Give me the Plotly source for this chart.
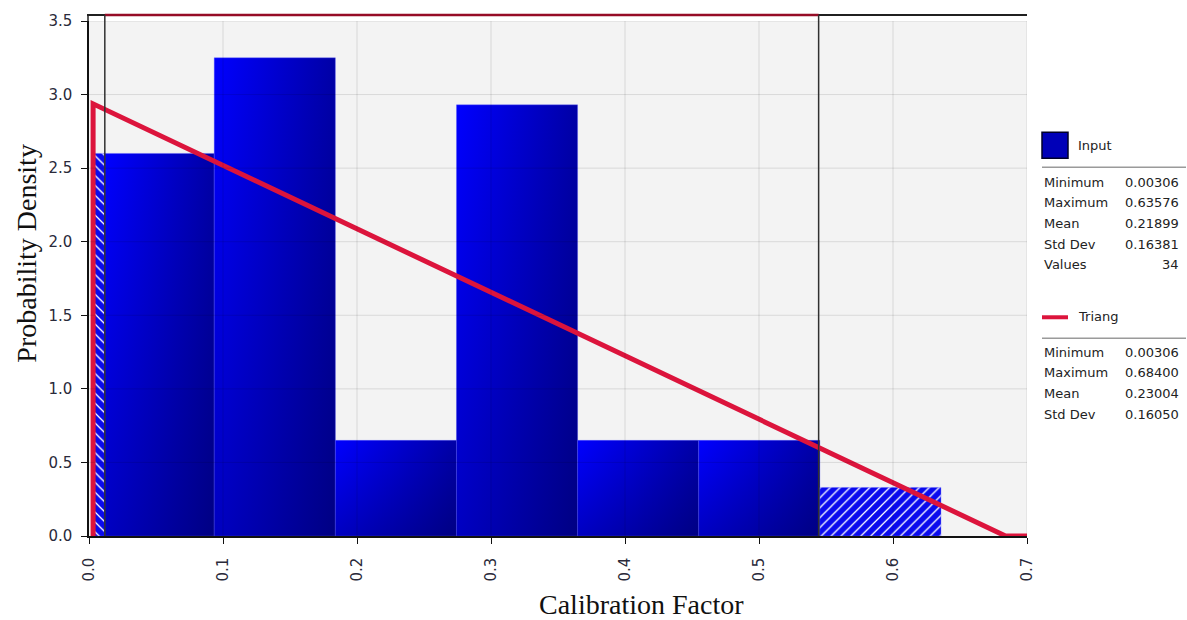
import plotly.graph_objects as go

# ---- data -------------------------------------------------------------
bin_edges = [0.00306, 0.09345, 0.18384, 0.27423, 0.36462, 0.45501, 0.54540, 0.63579]
densities = [2.60, 3.25, 0.65, 2.93, 0.65, 0.65, 0.33]

# fitted triangular density (mode at the minimum)
tri_x = [0.00306, 0.00306, 0.68400, 0.70]
tri_y = [0.0, 2.937, 0.0, 0.0]

# delimiter positions
delim_left = 0.0118
delim_right = 0.5445

x_ticks = [0.0, 0.1, 0.2, 0.3, 0.4, 0.5, 0.6, 0.7]
x_tick_text = ["0.0", "0.1", "0.2", "0.3", "0.4", "0.5", "0.6", "0.7"]
y_ticks = [0.0, 0.5, 1.0, 1.5, 2.0, 2.5, 3.0, 3.5]
y_tick_text = ["0.0", "0.5", "1.0", "1.5", "2.0", "2.5", "3.0", "3.5"]

input_labels = ["Minimum", "Maximum", "Mean", "Std Dev", "Values"]
input_values = ["0.00306", "0.63576", "0.21899", "0.16381", "34"]
triang_labels = ["Minimum", "Maximum", "Mean", "Std Dev"]
triang_values = ["0.00306", "0.68400", "0.23004", "0.16050"]

# ---- layout geometry (pixels) ------------------------------------------
W, H = 1187, 620
ML, MR, MT, MB = 89, 160, 18, 84
PW = W - ML - MR
PH = H - MT - MB


def px_x(p):
    return (p - ML) / PW


def px_y(p):
    return (H - MB - p) / PH


BLUE_GRAD = [[0.0, "#0000ff"], [1.0, "#0000a6"]]
SHADE_GRAD = [[0.0, "rgba(0,0,50,0.30)"], [1.0, "rgba(0,0,50,0.0)"]]
HATCH_BG = "#0a0aee"
RED = "rgb(220,20,60)"

fig = go.Figure()


def bar_poly(l, r, h, hatch=None):
    kw = dict(
        x=[l, l, r, r, l],
        y=[0, h, h, 0, 0],
        mode="lines",
        fill="toself",
        line=dict(color="rgba(90,90,255,0.45)", width=0.8),
        hoverinfo="skip",
        showlegend=False,
    )
    if hatch:
        kw["fillpattern"] = dict(shape=hatch, fgcolor="white", bgcolor=HATCH_BG,
                                 size=7, solidity=0.18, fillmode="replace")
        kw["fillcolor"] = HATCH_BG
        fig.add_trace(go.Scatter(**kw))
    else:
        kw["fillgradient"] = dict(type="horizontal", colorscale=BLUE_GRAD)
        fig.add_trace(go.Scatter(**kw))
        # darker toward the bottom for a diagonal sheen
        fig.add_trace(go.Scatter(
            x=[l, l, r, r, l], y=[0, h, h, 0, 0], mode="lines", fill="toself",
            line=dict(width=0), fillgradient=dict(type="vertical", colorscale=SHADE_GRAD),
            hoverinfo="skip", showlegend=False,
        ))


for l, r, h in zip(bin_edges[:-1], bin_edges[1:], densities):
    if r <= delim_left:
        bar_poly(l, r, h, "\\")
    elif l < delim_left < r:
        bar_poly(l, delim_left, h, "\\")
        bar_poly(delim_left, r, h)
    elif l >= delim_right:
        bar_poly(l, r, h, "/")
    else:
        bar_poly(l, r, h)

# triangular fit
fig.add_trace(go.Scatter(
    x=tri_x, y=tri_y, mode="lines",
    line=dict(color=RED, width=5),
    hoverinfo="skip", showlegend=False, cliponaxis=False,
))

shapes = []
# grid lines drawn over the bars
for xv in x_ticks[1:]:
    shapes.append(dict(type="line", xref="x", yref="y", x0=xv, x1=xv, y0=0, y1=3.5,
                       line=dict(color="rgba(0,0,0,0.11)", width=1), layer="above"))
for yv in y_ticks[1:]:
    shapes.append(dict(type="line", xref="x", yref="y", x0=0, x1=0.7, y0=yv, y1=yv,
                       line=dict(color="rgba(0,0,0,0.11)", width=1), layer="above"))

# delimiter bar along the top and delimiter lines
top_y = px_y(12)
shapes.append(dict(type="line", xref="paper", yref="paper", x0=px_x(87), x1=1.0,
                   y0=top_y, y1=top_y, line=dict(color="#202020", width=2)))
shapes.append(dict(type="line", xref="x", yref="paper", x0=delim_left, x1=delim_right,
                   y0=top_y, y1=top_y, line=dict(color="rgb(150,12,38)", width=2.5)))
for dv in (delim_left, delim_right):
    shapes.append(dict(type="line", xref="x", yref="paper", x0=dv, x1=dv,
                       y0=0, y1=top_y, line=dict(color="#303030", width=1.5)))
shapes.append(dict(type="line", xref="paper", yref="paper", x0=px_x(88), x1=px_x(88),
                   y0=1.0, y1=top_y, line=dict(color="#202020", width=1.5)))

# legend panel
shapes.append(dict(type="rect", xref="paper", yref="paper",
                   x0=px_x(1042), x1=px_x(1068), y0=px_y(156), y1=px_y(130),
                   fillcolor="#0000b8", line=dict(color="#000028", width=1.5)))
shapes.append(dict(type="line", xref="paper", yref="paper",
                   x0=px_x(1042), x1=px_x(1186), y0=px_y(165), y1=px_y(165),
                   line=dict(color="#9a9a9a", width=1.5)))
shapes.append(dict(type="line", xref="paper", yref="paper",
                   x0=px_x(1042), x1=px_x(1068), y0=px_y(316), y1=px_y(316),
                   line=dict(color=RED, width=4)))
shapes.append(dict(type="line", xref="paper", yref="paper",
                   x0=px_x(1042), x1=px_x(1186), y0=px_y(337), y1=px_y(337),
                   line=dict(color="#9a9a9a", width=1.5)))

LEG_FONT = dict(family="DejaVu Sans", size=13, color="#222222")
annotations = []


def text_at(x, y, s, anchor="left", font=LEG_FONT, angle=0):
    annotations.append(dict(xref="paper", yref="paper", x=px_x(x), y=px_y(y), text=s,
                            showarrow=False, xanchor=anchor, yanchor="middle",
                            font=font, textangle=angle))


text_at(1076, 143, "Input")
for i, (lab, val) in enumerate(zip(input_labels, input_values)):
    yy = 180 + i * 20.8
    text_at(1042, yy, lab)
    text_at(1181, yy, val, anchor="right")

text_at(1076, 315, "Triang")
for i, (lab, val) in enumerate(zip(triang_labels, triang_values)):
    yy = 351 + i * 20.8
    text_at(1042, yy, lab)
    text_at(1181, yy, val, anchor="right")

TITLE_FONT = dict(family="Liberation Serif", size=28, color="#111111")
annotations.append(dict(xref="paper", yref="paper", x=px_x(27), y=px_y(252),
                        text="Probability Density", showarrow=False, textangle=-90,
                        xanchor="center", yanchor="middle", font=TITLE_FONT))
annotations.append(dict(xref="paper", yref="paper", x=px_x(641), y=px_y(605),
                        text="Calibration Factor", showarrow=False,
                        xanchor="center", yanchor="middle", font=TITLE_FONT))

TICK_FONT = dict(family="DejaVu Sans", size=15, color="#2a2a3a")

fig.update_layout(
    width=W, height=H,
    margin=dict(l=ML, r=MR, t=MT, b=MB, pad=0),
    paper_bgcolor="white",
    plot_bgcolor="#f3f3f3",
    showlegend=False,
    shapes=shapes,
    annotations=annotations,
    xaxis=dict(range=[0, 0.7], tickvals=x_ticks, ticktext=x_tick_text,
               tickangle=-90, showgrid=False, zeroline=False,
               showline=True, linecolor="#111111", linewidth=1.5,
               ticks="outside", ticklen=6, tickcolor="#111111",
               tickfont=TICK_FONT, ticklabelstandoff=8, fixedrange=True),
    yaxis=dict(range=[0, 3.5], tickvals=y_ticks, ticktext=y_tick_text,
               showgrid=False, zeroline=False,
               showline=True, linecolor="#111111", linewidth=1.5,
               ticks="outside", ticklen=6, tickcolor="#111111",
               tickfont=TICK_FONT, ticklabelstandoff=6, fixedrange=True),
)

fig.write_html("out.html")
